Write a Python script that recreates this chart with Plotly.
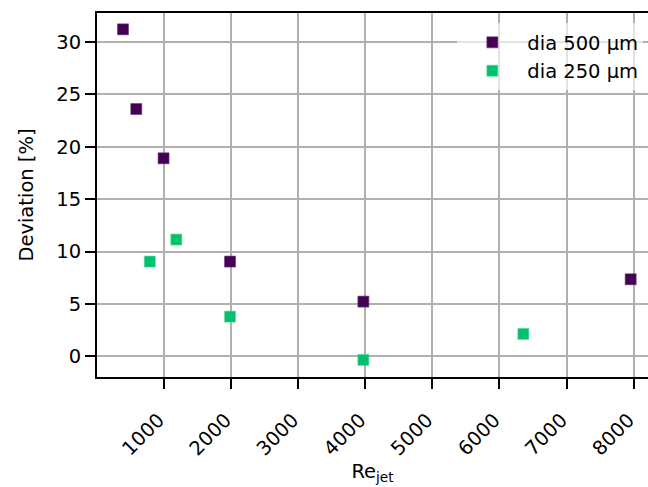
import plotly.graph_objects as go

re_500 = [396, 594, 1000, 1990, 3975, 7955]
dev_500 = [31.2, 23.6, 18.9, 9.05, 5.23, 7.36]
re_250 = [795, 1190, 1990, 3975, 6357]
dev_250 = [9.05, 11.15, 3.8, -0.33, 2.15]

x_ticks = [1000, 2000, 3000, 4000, 5000, 6000, 7000, 8000]
y_ticks = [0, 5, 10, 15, 20, 25, 30]

font = "DejaVu Sans, sans-serif"
fs = 19.5

fig = go.Figure()
fig.add_trace(go.Scatter(x=re_500, y=dev_500, mode="markers", name="dia 500 µm",
                         legendgroup="a",
                         marker=dict(symbol="square", size=11, color="#440154",
                                     line=dict(width=0.6, color="#6a3a78"))))
fig.add_trace(go.Scatter(x=re_250, y=dev_250, mode="markers", name="dia 250 µm",
                         legendgroup="b",
                         marker=dict(symbol="square", size=11, color="#00c26e",
                                     line=dict(width=0.6, color="#5ad89a"))))

fig.update_layout(
    width=648, height=487,
    margin=dict(l=97, r=0, t=13, b=110),
    paper_bgcolor="white", plot_bgcolor="white",
    font=dict(family=font, size=fs, color="black"),
    showlegend=True,
    legend=dict(x=0.654, y=0.972, xanchor="left", yanchor="top",
                bgcolor="rgba(255,255,255,0.65)", borderwidth=0,
                tracegroupgap=0, traceorder="grouped", itemwidth=60,
                font=dict(family=font, size=fs)),
    xaxis=dict(range=[9, 8213], tickvals=x_ticks, ticktext=[str(v) for v in x_ticks],
               tickangle=-45, showgrid=True, gridcolor="#b0b0b0", gridwidth=1.5,
               showline=True, linecolor="black", linewidth=2, mirror=True,
               ticks="outside", ticklen=10, tickwidth=2, tickcolor="black",
               ticklabelstandoff=12, ticklabelshift=-5,
               zeroline=False, tickfont=dict(size=fs),
               title=dict(text="Re<sub>jet</sub>", font=dict(size=fs), standoff=1)),
    yaxis=dict(range=[-1.96, 32.76], tickvals=y_ticks,
               showgrid=True, gridcolor="#b0b0b0", gridwidth=1.5,
               showline=True, linecolor="black", linewidth=2, mirror=False,
               ticks="outside", ticklen=10, tickwidth=2, tickcolor="black",
               zeroline=False, tickfont=dict(size=fs),
               title=dict(text="Deviation [%]", font=dict(size=fs), standoff=17)),
)

fig.write_html("out.html")
